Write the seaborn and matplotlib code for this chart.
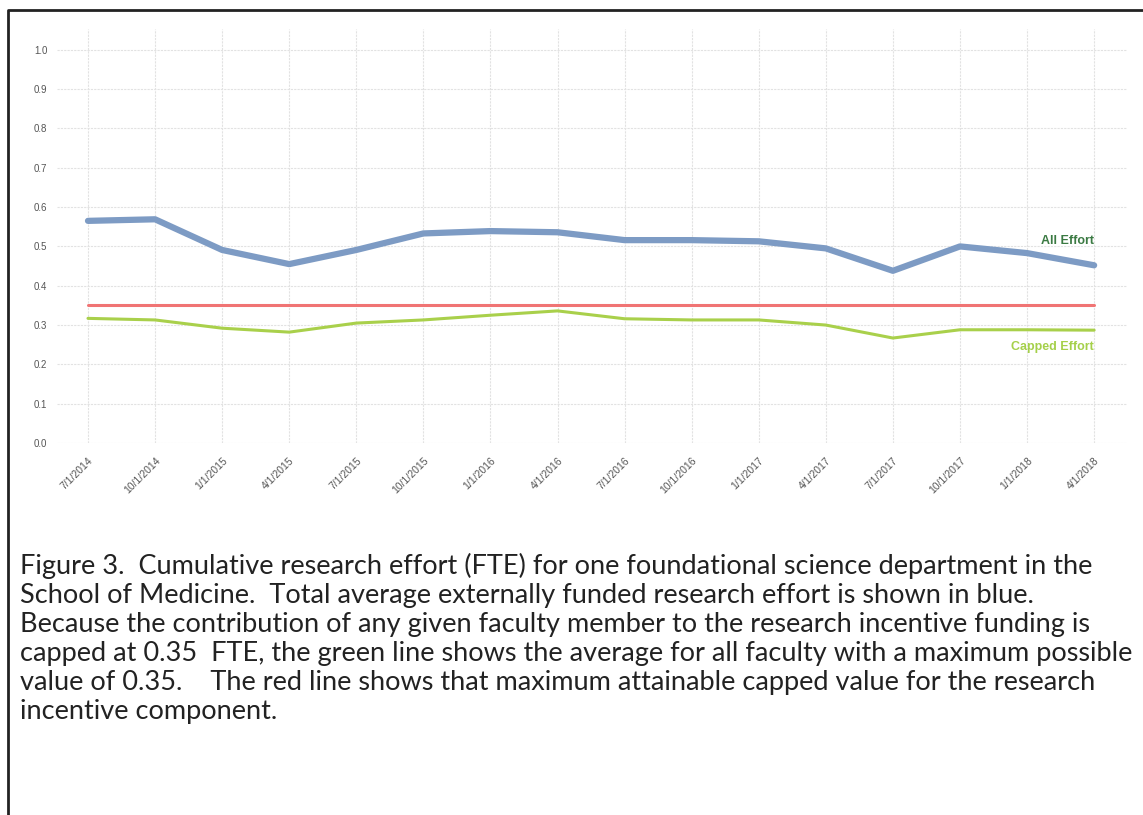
import matplotlib.pyplot as plt
import matplotlib.lines as mlines
import pandas as pd
import seaborn as sns

# data
dates = ["7/1/2014", "10/1/2014", "1/1/2015", "4/1/2015", "7/1/2015", "10/1/2015",
         "1/1/2016", "4/1/2016", "7/1/2016", "10/1/2016", "1/1/2017", "4/1/2017",
         "7/1/2017", "10/1/2017", "1/1/2018", "4/1/2018"]
all_effort = [0.565, 0.569, 0.491, 0.455, 0.491, 0.533, 0.539, 0.536,
              0.516, 0.516, 0.513, 0.495, 0.438, 0.500, 0.483, 0.452]
capped_effort = [0.317, 0.313, 0.292, 0.282, 0.305, 0.313, 0.325, 0.336,
                 0.316, 0.313, 0.313, 0.300, 0.267, 0.288, 0.288, 0.287]
cap_value = 0.35
y_ticks = [0.0, 0.1, 0.2, 0.3, 0.4, 0.5, 0.6, 0.7, 0.8, 0.9, 1.0]

caption_lines = [
    "Figure 3.  Cumulative research effort (FTE) for one foundational science department in the",
    "School of Medicine.  Total average externally funded research effort is shown in blue.",
    "Because the contribution of any given faculty member to the research incentive funding is",
    "capped at 0.35  FTE, the green line shows the average for all faculty with a maximum possible",
    "value of 0.35.    The red line shows that maximum attainable capped value for the research",
    "incentive component.",
]

W, H = 1143, 815
sns.set_theme(style="whitegrid")
plt.rcParams['font.family'] = ['Liberation Sans', 'DejaVu Sans']

df = pd.DataFrame({"pos": range(len(dates)), "all": all_effort,
                   "capped": capped_effort, "cap": [cap_value] * len(dates)})

fig = plt.figure(figsize=(W / 100, H / 100), dpi=100)
ax = fig.add_axes([57 / W, 1 - 443 / H, (1127 - 57) / W, (443 - 29) / H])

sns.lineplot(data=df, x="pos", y="cap", color="#f07474", linewidth=2.2, ax=ax)
sns.lineplot(data=df, x="pos", y="capped", color="#a9d04b", linewidth=2.2, ax=ax)
sns.lineplot(data=df, x="pos", y="all", color="#7d9bc4", linewidth=4.5, ax=ax)

ax.set_xlim(-0.462, 15.49)
ax.set_ylim(0, 1.053)
ax.set_yticks(y_ticks)
ax.set_yticklabels(["{:.1f}".format(v) for v in y_ticks])
ax.set_xticks(range(len(dates)))
ax.set_xticklabels(dates, rotation=45, ha="right", rotation_mode="anchor")
ax.tick_params(axis="y", labelsize=7, labelcolor="#555555", length=0, pad=7)
ax.tick_params(axis="x", labelsize=7.5, labelcolor="#555555", length=0, pad=9)
ax.set_xlabel("")
ax.set_ylabel("")
ax.grid(True, color="#e2e2e2", linewidth=0.8, linestyle=(0, (2, 1)))
for s in ax.spines.values():
    s.set_visible(False)

ax.text(15, 0.514, "All Effort", color="#3b7a43", fontsize=9, fontweight="bold",
        ha="right", va="center")
ax.text(15, 0.244, "Capped Effort", color="#a5d04a", fontsize=9, fontweight="bold",
        ha="right", va="center")

# frame around the figure (top and left only visible in the crop)
fig.add_artist(mlines.Line2D([8 / W, 8 / W, 1.02], [-0.02, 1 - 10 / H, 1 - 10 / H],
                             color="#222222", linewidth=2, transform=fig.transFigure))

for i, line in enumerate(caption_lines):
    fig.text(20 / W, 1 - (574 + 29 * i) / H, line, fontsize=19.5, color="#222222",
             family=["Lato", "DejaVu Sans"], ha="left", va="baseline")

fig.savefig("out.png", dpi=100)
